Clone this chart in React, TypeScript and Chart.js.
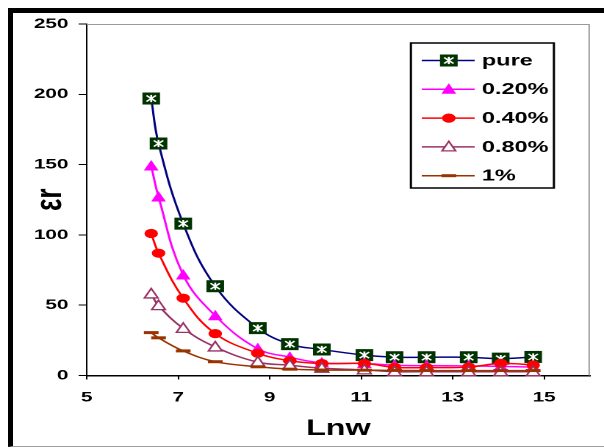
import React, { useEffect, useRef } from 'react';
import { Chart, registerables } from 'chart.js';

Chart.register(...registerables);

// ---- data ----
const LNW = [6.41, 6.57, 7.11, 7.81, 8.74, 9.44, 10.14, 11.07, 11.73, 12.43, 13.35, 14.05, 14.76];
const PURE = [197, 165, 108, 63.5, 33.7, 22.3, 18.5, 14.5, 13, 13, 13, 12, 13.2];
const P020 = [149, 127, 71.5, 42.5, 19, 13, 9, 8.5, 7.3, 7, 6.8, 6.5, 6];
const P040 = [101, 87, 55, 29.8, 15.8, 10.5, 8.5, 8.5, 5.8, 5.6, 6, 8.6, 7.5];
const P080 = [58, 49.7, 33.5, 20.3, 9.5, 7.3, 5.2, 4, 2.7, 2.7, 2.7, 2.7, 2.7];
const P1 = [30.5, 26.8, 17.5, 9.8, 6.2, 4.5, 3.9, 3.8, 3.6, 3.5, 3.5, 3.5, 3.5];
const SERIES_NAMES = ['pure', '0.20%', '0.40%', '0.80%', '1%'];
const X_TICKS = [5, 7, 9, 11, 13, 15];
const Y_TICKS = [0, 50, 100, 150, 200, 250];
const X_TITLE = 'Lnw';
const Y_TITLE = 'εr';

// ---- styles ----
const SERIES = [PURE, P020, P040, P080, P1];
const COLORS = ['#000080', '#FF00FF', '#FF0000', '#993366', '#993300'];
const MARKERS = ['star', 'tri', 'circle', 'triOpen', 'dash'];
const FONT = "'Liberation Sans', Arial, Helvetica, sans-serif";
const W = 411; // native width, stretched horizontally to 604
const H = 448;
const STRETCH = 604 / W;

function drawMarker(ctx: CanvasRenderingContext2D, kind: string, color: string, x: number, y: number) {
  ctx.save();
  ctx.setLineDash([]);
  switch (kind) {
    case 'star': {
      ctx.fillStyle = '#003300';
      ctx.fillRect(x - 6, y - 6, 12, 12);
      ctx.strokeStyle = '#ffffff';
      ctx.lineWidth = 1.3;
      ctx.beginPath();
      ctx.moveTo(x - 3.2, y - 3);
      ctx.lineTo(x + 3.2, y + 3);
      ctx.moveTo(x - 3.2, y + 3);
      ctx.lineTo(x + 3.2, y - 3);
      ctx.moveTo(x, y - 3.6);
      ctx.lineTo(x, y + 3.6);
      ctx.stroke();
      break;
    }
    case 'tri': {
      ctx.fillStyle = color;
      ctx.beginPath();
      ctx.moveTo(x, y - 6);
      ctx.lineTo(x - 5, y + 4.5);
      ctx.lineTo(x + 5, y + 4.5);
      ctx.closePath();
      ctx.fill();
      break;
    }
    case 'circle': {
      ctx.fillStyle = color;
      ctx.beginPath();
      ctx.arc(x, y, 4.6, 0, Math.PI * 2);
      ctx.fill();
      break;
    }
    case 'triOpen': {
      ctx.fillStyle = '#ffffff';
      ctx.strokeStyle = color;
      ctx.lineWidth = 1.3;
      ctx.beginPath();
      ctx.moveTo(x, y - 5.5);
      ctx.lineTo(x - 4.6, y + 4);
      ctx.lineTo(x + 4.6, y + 4);
      ctx.closePath();
      ctx.fill();
      ctx.stroke();
      break;
    }
    case 'dash': {
      ctx.fillStyle = color;
      ctx.fillRect(x - 5, y - 1.5, 10, 3);
      break;
    }
  }
  ctx.restore();
}

const markerPlugin = {
  id: 'excelMarkers',
  beforeDatasetsDraw(chart: any) {
    const { ctx, chartArea } = chart;
    ctx.save();
    ctx.strokeStyle = '#9a9a9a';
    ctx.lineWidth = 1;
    ctx.beginPath();
    ctx.moveTo(chartArea.left, chartArea.top + 0.5);
    ctx.lineTo(chartArea.right - 0.5, chartArea.top + 0.5);
    ctx.lineTo(chartArea.right - 0.5, chartArea.bottom);
    ctx.stroke();
    ctx.restore();
  },
  afterDatasetDraw(chart: any, args: any) {
    const i = args.index;
    const ctx = chart.ctx;
    args.meta.data.forEach((pt: any) => drawMarker(ctx, MARKERS[i], COLORS[i], pt.x, pt.y));
  },
  afterDraw(chart: any) {
    const ctx = chart.ctx as CanvasRenderingContext2D;
    const bx = 279.6, by = 43, bw = 97.3, bh = 145;
    ctx.save();
    ctx.fillStyle = '#ffffff';
    ctx.fillRect(bx, by, bw, bh);
    ctx.strokeStyle = '#000000';
    ctx.lineWidth = 1.5;
    ctx.strokeRect(bx, by, bw, bh);
    SERIES_NAMES.forEach((name, i) => {
      const y = 60.5 + i * 28.8;
      ctx.strokeStyle = COLORS[i];
      ctx.lineWidth = 1.5;
      ctx.beginPath();
      ctx.moveTo(287, y);
      ctx.lineTo(323, y);
      ctx.stroke();
      drawMarker(ctx, MARKERS[i], COLORS[i], 305.4, y);
      ctx.fillStyle = '#000000';
      ctx.font = `bold 16px ${FONT}`;
      ctx.textBaseline = 'middle';
      ctx.textAlign = 'left';
      ctx.fillText(name, 327.9, y + 0.5);
    });
    ctx.restore();
  },
};

export default function App() {
  const canvasRef = useRef<HTMLCanvasElement | null>(null);

  useEffect(() => {
    const canvas = canvasRef.current;
    if (!canvas) return;
    const datasets = SERIES.map((vals, i) => ({
      label: SERIES_NAMES[i],
      data: vals.map((v, j) => ({ x: LNW[j], y: v })),
      borderColor: COLORS[i],
      backgroundColor: COLORS[i],
      borderWidth: 1.5,
      pointRadius: 0,
      pointHoverRadius: 0,
      tension: 0.4,
      fill: false,
      order: SERIES.length - 1 - i,
    }));
    const tickFont = { family: FONT, size: 14, weight: 'bold' as const };
    const chart = new Chart(canvas, {
      type: 'line',
      data: { datasets },
      options: {
        animation: false,
        responsive: false,
        devicePixelRatio: 2,
        events: [],
        layout: { padding: { left: 0, right: 9.6, top: 24, bottom: 0 } },
        plugins: { legend: { display: false }, tooltip: { enabled: false } },
        scales: {
          x: {
            type: 'linear',
            min: 5,
            max: 16,
            afterBuildTicks: (s: any) => {
              s.ticks = X_TICKS.map((v) => ({ value: v }));
            },
            afterFit: (s: any) => {
              s.height = 72.5;
            },
            grid: { drawOnChartArea: false, drawTicks: true, tickLength: 4, color: '#000', lineWidth: 1 },
            border: { display: true, color: '#000', width: 1.5 },
            ticks: { color: '#000', font: tickFont, padding: 9.5, maxRotation: 0, autoSkip: false },
            title: {
              display: true,
              text: X_TITLE,
              color: '#000',
              font: { family: FONT, size: 22, weight: 'bold' },
              padding: { top: 0, bottom: 6 },
            },
          },
          y: {
            type: 'linear',
            min: 0,
            max: 250,
            afterBuildTicks: (s: any) => {
              s.ticks = Y_TICKS.map((v) => ({ value: v }));
            },
            afterFit: (s: any) => {
              s.width = 59;
            },
            grid: { drawOnChartArea: false, drawTicks: true, tickLength: 5.5, color: '#000', lineWidth: 1 },
            border: { display: true, color: '#000', width: 1 },
            ticks: { color: '#000', font: tickFont, padding: 7 },
            title: {
              display: true,
              text: Y_TITLE,
              color: '#000',
              font: { family: FONT, size: 26, weight: 'bold' },
              padding: { top: 18.8, bottom: 0 },
            },
          },
        },
      } as any,
      plugins: [markerPlugin],
    });
    return () => chart.destroy();
  }, []);

  return (
    <div
      style={{
        position: 'fixed',
        left: 0,
        top: 0,
        width: 604,
        height: 448,
        background: '#ffffff',
        overflow: 'hidden',
      }}
    >
      <div
        style={{
          position: 'absolute',
          left: 8,
          top: 8,
          width: 700,
          height: 433,
          borderLeft: '5px solid #000',
          borderTop: '5px solid #000',
          borderBottom: '1px solid #a0a0a0',
        }}
      />
      <div
        style={{
          position: 'absolute',
          left: 0,
          top: 0,
          width: W,
          height: H,
          transform: `scaleX(${STRETCH})`,
          transformOrigin: '0 0',
        }}
      >
        <canvas ref={canvasRef} width={W} height={H} style={{ width: W, height: H, display: 'block' }} />
      </div>
    </div>
  );
}
